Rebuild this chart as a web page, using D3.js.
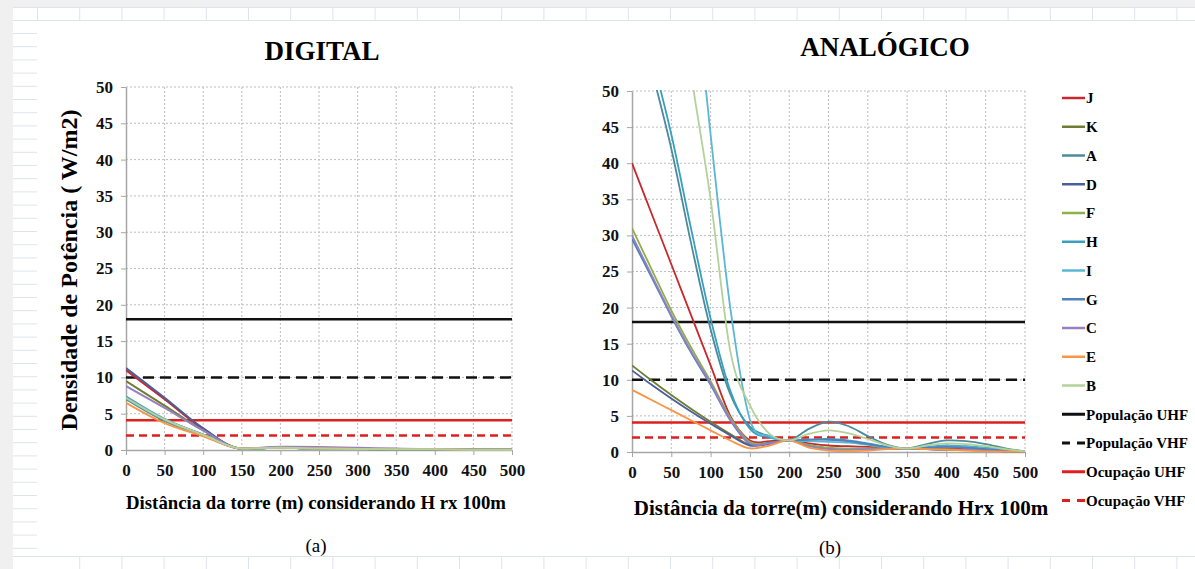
<!DOCTYPE html>
<html>
<head>
<meta charset="utf-8">
<script src="https://cdn.jsdelivr.net/npm/d3@7"></script>
<style>
  body { margin: 0; background: #f0f0f0; }
  svg { display: block; font-family: "Liberation Serif", "Times New Roman", serif; }
</style>
</head>
<body>
<svg id="chart"></svg>
<script>
  const W = 1195, H = 569;

  // tick labels
  const xTicks = [0, 50, 100, 150, 200, 250, 300, 350, 400, 450, 500];
  const yTicks = [0, 5, 10, 15, 20, 25, 30, 35, 40, 45, 50];

  // series (legend order)
  const seriesNames  = ["J", "K", "A", "D", "F", "H", "I", "G", "C", "E", "B"];
  const seriesColors = ["#c8282d", "#6f7d32", "#4a8c9c", "#4a5e9a", "#8db04a", "#3a9fbf",
                        "#5bb8d4", "#4f81bd", "#9580c0", "#f79646", "#b5d19a"];

  // DIGITAL panel, distance every 50 m
  const digitalDist = [0, 50, 100, 150, 200, 250, 300, 350, 400, 450, 500];
  const digitalJ = [11.0, 7.0, 2.9, 0.2, 0.3, 0.2, 0.15, 0.1, 0.1, 0.05, 0.05];
  const digitalK = [9.5, 6.1, 2.7, 0.2, 0.3, 0.2, 0.15, 0.1, 0.1, 0.05, 0.05];
  const digitalA = [7.0, 4.0, 2.0, 0.2, 0.3, 0.2, 0.15, 0.1, 0.1, 0.05, 0.05];
  const digitalD = [11.3, 7.2, 3.0, 0.2, 0.35, 0.25, 0.15, 0.1, 0.1, 0.05, 0.05];
  const digitalF = [7.2, 4.2, 2.1, 0.2, 0.3, 0.2, 0.15, 0.1, 0.1, 0.05, 0.05];
  const digitalH = [7.1, 4.1, 2.05, 0.2, 0.3, 0.2, 0.15, 0.1, 0.1, 0.05, 0.05];
  const digitalI = [7.4, 4.3, 2.1, 0.2, 0.3, 0.2, 0.15, 0.1, 0.1, 0.05, 0.05];
  const digitalG = [7.3, 4.2, 2.1, 0.2, 0.3, 0.2, 0.15, 0.1, 0.1, 0.05, 0.05];
  const digitalC = [8.8, 5.8, 2.7, 0.2, 0.45, 0.4, 0.3, 0.2, 0.1, 0.05, 0.05];
  const digitalE = [6.5, 3.7, 1.9, 0.2, 0.3, 0.2, 0.15, 0.1, 0.1, 0.05, 0.05];
  const digitalB = [7.2, 4.2, 2.1, 0.2, 0.3, 0.2, 0.15, 0.1, 0.1, 0.05, 0.05];

  // ANALÓGICO panel, distance every 25 m
  const analogDist = [0, 25, 50, 75, 100, 125, 150, 175, 200, 225, 250,
                      275, 300, 325, 350, 375, 400, 425, 450, 475, 500];
  const analogJ = [40, 33, 26, 19, 12, 5, 1.6, 1.5, 1.6, 1.2, 0.9, 0.8, 0.7, 0.6, 0.5, 0.5, 0.5, 0.4, 0.3, 0.2, 0.1];
  const analogK = [12, 9.9, 7.9, 6.0, 4.2, 2.5, 1.0, 1.2, 1.6, 0.9, 0.5, 0.4, 0.4, 0.4, 0.5, 0.4, 0.3, 0.3, 0.2, 0.1, 0.05];
  const analogA = [64, 53, 42, 29, 17, 8, 3.5, 2.2, 1.6, 3.2, 4.2, 3.6, 2.2, 1.0, 0.5, 1.1, 1.6, 1.5, 1.1, 0.5, 0.1];
  const analogD = [11.3, 9.3, 7.4, 5.6, 3.9, 2.3, 0.9, 1.1, 1.6, 0.9, 0.5, 0.4, 0.4, 0.4, 0.5, 0.4, 0.3, 0.3, 0.2, 0.1, 0.05];
  const analogF = [31, 25.3, 19.6, 14.5, 9.8, 4.8, 1.4, 1.3, 1.6, 1.0, 0.6, 0.5, 0.5, 0.5, 0.5, 0.4, 0.4, 0.3, 0.2, 0.1, 0.05];
  const analogH = [66, 55, 44, 31, 18.5, 8.5, 3.2, 2.0, 1.6, 1.7, 1.8, 1.6, 1.2, 0.7, 0.5, 0.7, 0.9, 0.8, 0.6, 0.3, 0.1];
  const analogI = [140, 118, 95, 70, 44, 20, 4.5, 2.2, 1.6, 1.5, 1.4, 1.3, 1.0, 0.6, 0.5, 0.6, 0.8, 0.7, 0.5, 0.3, 0.1];
  const analogG = [29.5, 24.2, 18.8, 13.8, 9.3, 4.4, 1.1, 1.3, 1.6, 1.7, 1.7, 1.5, 1.1, 0.7, 0.5, 0.6, 0.7, 0.6, 0.4, 0.2, 0.1];
  const analogC = [30, 24.5, 19, 14, 9.5, 4.5, 1.2, 1.2, 1.6, 0.8, 0.4, 0.3, 0.4, 0.4, 0.5, 0.4, 0.3, 0.3, 0.2, 0.1, 0.05];
  const analogE = [8.6, 7.2, 5.8, 4.4, 3.0, 1.6, 0.5, 0.9, 1.6, 0.6, 0.2, 0.1, 0.2, 0.4, 0.5, 0.4, 0.3, 0.2, 0.1, 0.05, 0.05];
  const analogB = [110, 91, 72, 52.5, 35, 14, 6.5, 2.5, 1.6, 2.5, 3.0, 2.6, 1.8, 0.9, 0.5, 0.9, 1.2, 1.1, 0.8, 0.4, 0.1];

  // reference limits (W/m2)
  const limitNames  = ["População UHF", "População VHF", "Ocupação UHF", "Ocupação VHF"];
  const limitValues = [18, 10, 4.1, 2];
  const limitColors = ["#111111", "#111111", "#dd1f1f", "#dd1f1f"];
  const limitDashes = [null, "11,6", null, "8,5"];

  const digitalSeries = [digitalJ, digitalK, digitalA, digitalD, digitalF, digitalH,
                         digitalI, digitalG, digitalC, digitalE, digitalB];
  const analogSeries  = [analogJ, analogK, analogA, analogD, analogF, analogH,
                         analogI, analogG, analogC, analogE, analogB];

  let svg = d3.select("#chart")
              .attr("width", W)
              .attr("height", H);

  // spreadsheet-like page background
  svg.append("rect").attr("width", W).attr("height", H).attr("fill", "#f0f0f0");
  svg.append("rect")
     .attr("x", 13).attr("y", 7)
     .attr("width", W - 13).attr("height", H - 7)
     .attr("fill", "#ffffff");

  let sheet = svg.append("g")
                 .attr("stroke", "#dfe4eb")
                 .attr("stroke-width", 1);
  sheet.append("line").attr("x1", 13).attr("x2", W).attr("y1", 7.5).attr("y2", 7.5);
  sheet.append("line").attr("x1", 13).attr("x2", W).attr("y1", 20.5).attr("y2", 20.5);
  sheet.append("line").attr("x1", 13).attr("x2", W).attr("y1", 556.5).attr("y2", 556.5);
  sheet.append("line").attr("x1", 37.5).attr("x2", 37.5).attr("y1", 7).attr("y2", 20);
  d3.range(37.5 + 42.2, W, 42.2).forEach((cx) => {
    sheet.append("line").attr("x1", cx).attr("x2", cx).attr("y1", 7).attr("y2", 20);
    sheet.append("line").attr("x1", cx).attr("x2", cx).attr("y1", 557).attr("y2", H);
  });
  d3.range(33.5, 556, 13.2).forEach((cy) => {
    sheet.append("line").attr("x1", 13).attr("x2", 37).attr("y1", cy).attr("y2", cy);
  });

  function drawPanel (p) {
    let x = d3.scaleLinear().domain([0, 500]).range([p.left, p.right]);
    let y = d3.scaleLinear().domain([0, 50]).range([p.bottom, p.top]);

    let g = svg.append("g");

    // dotted grid
    g.append("g").selectAll("line")
     .data(yTicks.slice(1))
     .join("line")
     .attr("x1", p.left).attr("x2", p.right)
     .attr("y1", (d) => y(d)).attr("y2", (d) => y(d))
     .attr("stroke", "#bdbdbd")
     .attr("stroke-width", 1)
     .attr("stroke-dasharray", "2,2");

    g.append("g").selectAll("line")
     .data(xTicks.slice(1))
     .join("line")
     .attr("x1", (d) => x(d)).attr("x2", (d) => x(d))
     .attr("y1", p.top).attr("y2", p.bottom)
     .attr("stroke", "#bdbdbd")
     .attr("stroke-width", 1)
     .attr("stroke-dasharray", "2,2");

    // y axis
    let yAxis = g.append("g")
                 .attr("transform", "translate(" + p.left + ",0)")
                 .call(d3.axisLeft(y).tickValues(yTicks).tickSize(5).tickSizeOuter(0).tickPadding(8));
    // x axis
    let xAxis = g.append("g")
                 .attr("transform", "translate(0," + p.bottom + ")")
                 .call(d3.axisBottom(x).tickValues(xTicks).tickSize(5).tickSizeOuter(0).tickPadding(9));

    [yAxis, xAxis].forEach((a) => {
      a.attr("font-family", null).attr("font-size", null);
      a.select(".domain").attr("stroke", "#a6a6a6").attr("stroke-width", 1.5);
      a.selectAll(".tick line").attr("stroke", "#a6a6a6");
      a.selectAll(".tick text")
       .attr("fill", "#111")
       .attr("font-weight", "bold")
       .attr("font-size", 17);
    });

    // data clipped to the plot area
    let clipId = "clip-" + p.id;
    svg.append("clipPath").attr("id", clipId)
       .append("rect")
       .attr("x", p.left).attr("y", p.top - 1)
       .attr("width", p.right - p.left + 2).attr("height", p.bottom - p.top + 2);

    let plot = g.append("g").attr("clip-path", "url(#" + clipId + ")");

    // limit lines
    plot.selectAll(".limit")
        .data(limitValues)
        .join("line")
        .attr("class", "limit")
        .attr("x1", x(0)).attr("x2", x(500))
        .attr("y1", (d) => y(d)).attr("y2", (d) => y(d))
        .attr("stroke", (d, i) => limitColors[i])
        .attr("stroke-width", 2.5)
        .attr("stroke-dasharray", (d, i) => limitDashes[i]);

    let line = d3.line()
                 .x((d, i) => x(p.dist[i]))
                 .y((d) => y(d))
                 .curve(p.curve);

    plot.selectAll(".series")
        .data(p.series)
        .join("path")
        .attr("class", "series")
        .attr("d", line)
        .attr("fill", "none")
        .attr("stroke", (d, i) => seriesColors[i])
        .attr("stroke-width", p.lineWidth);

    // title
    svg.append("text")
       .attr("x", p.titleX).attr("y", p.titleY)
       .attr("text-anchor", "middle")
       .attr("font-weight", "bold")
       .attr("font-size", 27)
       .text(p.title);

    // x label
    svg.append("text")
       .attr("x", p.xLabelX).attr("y", p.xLabelY)
       .attr("text-anchor", "middle")
       .attr("font-weight", "bold")
       .attr("font-size", p.xLabelSize)
       .text(p.xLabel);

    // (a) / (b)
    svg.append("text")
       .attr("x", p.capX).attr("y", p.capY)
       .attr("text-anchor", "middle")
       .attr("font-size", 19)
       .text(p.caption);
  }

  drawPanel({
    id: "digital", left: 126, right: 512, top: 87, bottom: 450,
    dist: digitalDist, series: digitalSeries, curve: d3.curveMonotoneX, lineWidth: 2,
    title: "DIGITAL", titleX: 322, titleY: 60,
    xLabel: "Distância da torre (m) considerando H rx 100m", xLabelX: 316, xLabelY: 509, xLabelSize: 18.8,
    caption: "(a)", capX: 316, capY: 552
  });

  drawPanel({
    id: "analog", left: 632, right: 1025, top: 91, bottom: 452,
    dist: analogDist, series: analogSeries, curve: d3.curveCardinal, lineWidth: 1.8,
    title: "ANALÓGICO", titleX: 885, titleY: 56,
    xLabel: "Distância da torre(m) considerando Hrx 100m", xLabelX: 841, xLabelY: 515, xLabelSize: 21,
    caption: "(b)", capX: 830, capY: 554
  });

  // y axis title (left panel)
  svg.append("text")
     .attr("transform", "translate(77,270) rotate(-90)")
     .attr("text-anchor", "middle")
     .attr("font-weight", "bold")
     .attr("font-size", 24)
     .text("Densidade de Potência ( W/m2)");

  // legend for the analog panel
  let legendItems = seriesNames.map((n, i) => ({name: n, color: seriesColors[i], dash: null, width: 2.5}))
        .concat(limitNames.map((n, i) => ({name: n, color: limitColors[i], dash: limitDashes[i] ? "8,7" : null, width: 3})));

  let legend = svg.append("g")
                  .attr("transform", "translate(1062,98)");

  let item = legend.selectAll("g")
                   .data(legendItems)
                   .join("g")
                   .attr("transform", (d, i) => "translate(0," + (i * 28.75) + ")");

  item.append("line")
      .attr("x1", 0).attr("x2", 23)
      .attr("stroke", (d) => d.color)
      .attr("stroke-width", (d) => d.width)
      .attr("stroke-dasharray", (d) => d.dash);

  item.append("text")
      .attr("x", 24)
      .attr("dy", "0.35em")
      .attr("font-weight", "bold")
      .attr("font-size", 15)
      .text((d) => d.name);
</script>
</body>
</html>
